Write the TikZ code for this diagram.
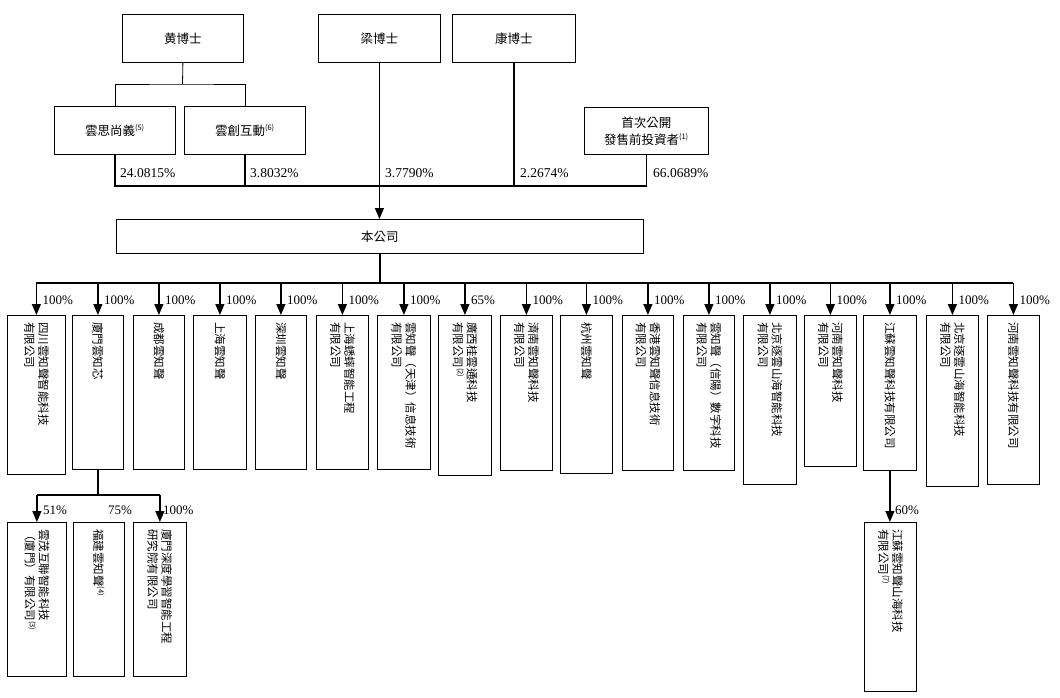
\documentclass[tikz,border=0pt]{standalone}
\usepackage{fontspec}
\setmainfont{Liberation Serif}
\newfontfamily\cjk{Noto Sans CJK TC}
\usetikzlibrary{arrows.meta,calc}
\newcommand\supnote[1]{\textsuperscript{\fontsize{7.5}{7.5}\selectfont(#1)}}
\begin{document}
\begin{tikzpicture}[x=1pt,y=-1pt,
  box/.style={draw, line width=0.8pt, inner sep=0pt, anchor=north west, align=center,
    font=\cjk\fontsize{12.5}{17}\selectfont},
  vt/.style={rotate=-90, anchor=west, align=left, inner sep=0pt,
    font=\cjk\fontsize{11.5}{14}\selectfont},
  ln/.style={line width=1.2pt},
  thin/.style={line width=0.8pt},
  arr/.style={line width=1.2pt, -{Triangle[length=11pt,width=9pt]}},
  pct/.style={anchor=west, inner sep=0pt, font=\fontsize{13.5}{15}\selectfont},
  spct/.style={anchor=west, inner sep=0pt, font=\fontsize{13}{15}\selectfont},
]
\useasboundingbox (0,0) rectangle (1060,698);

% top level
\node[box, minimum width=121pt, minimum height=48pt] (huang) at (122,14) {黄博士};
\node[box, minimum width=122pt, minimum height=48pt] (liang) at (318,14) {梁博士};
\node[box, minimum width=123pt, minimum height=48pt] (kang) at (452,14) {康博士};
\node[box, minimum width=121pt, minimum height=48pt] (ysy) at (54,106) {雲思尚義\supnote{5}};
\node[box, minimum width=121pt, minimum height=48pt] (ych) at (184,106) {雲創互動\supnote{6}};
\node[box, minimum width=124pt, minimum height=47pt] (ipo) at (584,107) {首次公開\\發售前投資者\supnote{1}};
\node[box, minimum width=527pt, minimum height=34pt] (co) at (116,219) {本公司};

\coordinate (hj) at (182.5,84);
\coordinate (by) at (0,186);
\draw[thin] (huang.south) -- (hj);
\draw[thin] (ysy.north) |- (hj) -| (ych.north);
\draw[ln] (ysy.south) -- (ysy.south |- by) -- (ipo.south |- by) -- (ipo.south);
\draw[ln] (ych.south) -- (ych.south |- by);
\draw[ln] (kang.south) -- (kang.south |- by);
\draw[arr] (liang.south) -- (liang.south |- co.north);

\node[pct] (p1) at (120,173) {24.0815\%};
\node[pct] (p2) at (250,173) {3.8032\%};
\node[pct] (p3) at (385,173) {3.7790\%};
\node[pct] (p4) at (520,173) {2.2674\%};
\node[pct] (p5) at (653,173) {66.0689\%};

% first row of subsidiaries
\coordinate (rb) at (0,283);
\foreach \i/\xl/\w/\h/\pc/\txt in {
  1/7/58/159/100/{四川雲知聲智能科技\\有限公司},
  2/72/51/154/100/{廈門雲知芯},
  3/133/51/154/100/{成都雲知聲},
  4/193/53/154/100/{上海雲知聲},
  5/255/51/154/100/{深圳雲知聲},
  6/316/52/154/100/{上海蟋蟀智能工程\\有限公司},
  7/377/53/154/100/{雲知聲（天津）信息技術\\有限公司},
  8/438/53/160/65/{廣西桂雲通科技\\有限公司\supnote{2}},
  9/500/52/155/100/{濟南雲知聲科技\\有限公司},
  10/560/52/158/100/{杭州雲知聲},
  11/622/51/155/100/{香港雲知聲信息技術\\有限公司},
  12/683/51/155/100/{雲知聲（信陽）數字科技\\有限公司},
  13/743/53/169/100/{北京逐雲山海智能科技\\有限公司},
  14/804/52/151/100/{河南雲知聲科技\\有限公司},
  15/863/53/155/100/{江蘇雲知聲科技有限公司},
  16/926/52/171/100/{北京逐雲山海智能科技\\有限公司},
  17/987/52/169/100/{河南雲知聲科技有限公司}}{
  \node[box, minimum width=\w pt, minimum height=\h pt] (b\i) at (\xl,315) {};
  \node[vt] (t\i) at ($(b\i.north)+(0,7)$) {\txt};
  \draw[arr] (b\i.north |- rb) -- (b\i.north);
  \node[spct] (q\i) at ($(b\i.north |- rb)+(6,17)$) {\pc\%};
}
\draw[ln] (co.south) -- (co.south |- rb);
\draw[ln] (b1.north |- rb) -- (b17.north |- rb);

% second row
\node[box, minimum width=59pt, minimum height=154pt] (c1) at (7,522) {};
\node[box, minimum width=51pt, minimum height=154pt] (c2) at (73,522) {};
\node[box, minimum width=53pt, minimum height=154pt] (c3) at (133,522) {};
\node[box, minimum width=52pt, minimum height=169pt] (c4) at (864,522) {};
\node[vt] (u1) at ($(c1.north)+(0,7)$) {雲茂互聯智能科技\\（廈門）有限公司\supnote{3}};
\node[vt] (u2) at ($(c2.north)+(0,7)$) {福建雲知聲\supnote{4}};
\node[vt] (u3) at ($(c3.north)+(0,7)$) {廈門深度學習智能工程\\研究院有限公司};
\node[vt] (u4) at ($(c4.north)+(0,7)$) {江蘇雲知聲山海科技\\有限公司\supnote{7}};

\coordinate (sb) at (0,495);
\draw[ln] (b2.south) -- (b2.south |- sb);
\draw[ln] (c1.north |- sb) -- (c3.north |- sb);
\draw[arr] (c1.north |- sb) -- (c1.north);
\draw[arr] (c3.north |- sb) -- (c3.north);
\draw[arr] (b15.south) -- (b15.south |- c4.north);

\node[spct] (r1) at (43,510) {51\%};
\node[spct] (r2) at (108,510) {75\%};
\node[spct] (r3) at (163,510) {100\%};
\node[spct] (r4) at (895,510) {60\%};
\end{tikzpicture}
\end{document}
